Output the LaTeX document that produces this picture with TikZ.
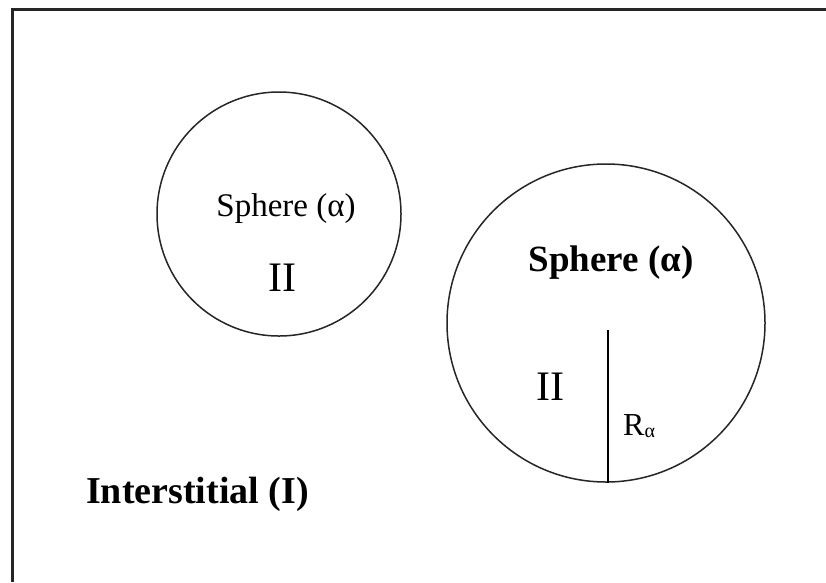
\documentclass[tikz,border=0pt]{standalone}
\usepackage{fontspec}
\setmainfont{Liberation Serif}
\begin{document}
\begin{tikzpicture}[x=1pt,y=-1pt,
  frame/.style={line width=3pt,draw=black!85},
  sphere/.style={circle,draw=black!85,line width=1.5pt,inner sep=0pt},
  lbl/.style={inner sep=0pt,text=black}]
\useasboundingbox (0,0) rectangle (826,582);
\fill[white] (0,0) rectangle (826,582);
% open frame: top and left edges only
\draw[frame] (826,9) -- (12,9) -- (12,582);
% muffin-tin spheres
\node[sphere,minimum size=244pt] (small) at (279,214) {};
\node[sphere,minimum size=318pt] (big) at (606,323) {};
% radius marker
\coordinate (rtop) at (608,330);
\draw[line width=1.4pt] (rtop) -- (big.south -| rtop);
% labels
\node[lbl,font=\fontsize{33}{33}\selectfont] (s1) at (286,209) {Sphere (α)};
\node[lbl,font=\fontsize{42}{42}\selectfont] (r1) at (282,278) {II};
\node[lbl,font=\fontsize{37}{37}\selectfont\bfseries] (s2) at (611,263) {Sphere (α)};
\node[lbl,font=\fontsize{42}{42}\selectfont] (r2) at (550,387) {II};
\node[lbl,font=\fontsize{32}{32}\selectfont,anchor=base west] (ra) at (623,435) {R\raisebox{-2pt}{\fontsize{20}{20}\selectfont α}};
\node[lbl,font=\fontsize{38}{38}\selectfont\bfseries,anchor=base west] (inter) at (86,503) {Interstitial (I)};
\end{tikzpicture}
\end{document}
